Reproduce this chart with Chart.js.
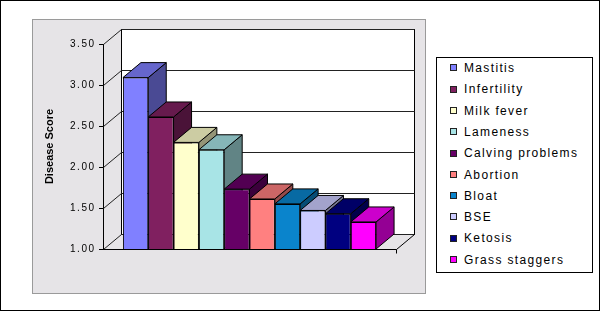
<!DOCTYPE html>
<html>
<head>
<meta charset="utf-8">
<script src="https://cdn.jsdelivr.net/npm/chart.js@4.4.1/dist/chart.umd.min.js"></script>
<style>
  body { margin: 0; background: #fff; }
  #wrap { position: relative; width: 600px; height: 311px; }
  #legend {
    position: absolute; left: 436px; top: 57px; width: 155px; height: 214px;
    border: 1px solid #000; background: #fff;
    font: 12px "Liberation Sans", Arial, sans-serif; letter-spacing: 1.35px; color: #000;
  }
  .item { position: absolute; left: 13px; height: 14px; line-height: 14px; white-space: nowrap; }
  .item i { display: inline-block; width: 5px; height: 5px; border: 1px solid #222; margin-right: 7px; vertical-align: middle; position: relative; top: -1px; }
</style>
</head>
<body>
<div id="wrap">
  <canvas id="canvas" width="600" height="311"></canvas>
  <div id="legend"></div>
</div>
<script>
const diseases = ["Mastitis", "Infertility", "Milk fever", "Lameness", "Calving problems",
  "Abortion", "Bloat", "BSE", "Ketosis", "Grass staggers"];
const scores = [3.09, 2.61, 2.30, 2.21, 1.73, 1.61, 1.55, 1.47, 1.43, 1.33];
const yTicks = [1.0, 1.5, 2.0, 2.5, 3.0, 3.5];
const colors = ["#8080FF", "#802060", "#FFFFCC", "#A8E4E6", "#660066",
  "#FF8080", "#0A84CC", "#CCCCFF", "#000080", "#FF00FF"];

// depth of the 3d box, in pixels
const DX = 18, DY = 15;

function shade(hex, f) {
  const n = parseInt(hex.slice(1), 16);
  const r = Math.round(((n >> 16) & 255) * f);
  const g = Math.round(((n >> 8) & 255) * f);
  const b = Math.round((n & 255) * f);
  return `rgb(${r},${g},${b})`;
}

function poly(ctx, pts, fill) {
  ctx.beginPath();
  ctx.moveTo(pts[0][0], pts[0][1]);
  for (let k = 1; k < pts.length; k++) ctx.lineTo(pts[k][0], pts[k][1]);
  ctx.closePath();
  if (fill) { ctx.fillStyle = fill; ctx.fill(); }
  ctx.stroke();
}

function line(ctx, x1, y1, x2, y2) {
  ctx.beginPath();
  ctx.moveTo(x1, y1);
  ctx.lineTo(x2, y2);
  ctx.stroke();
}

const box3d = {
  id: "box3d",
  beforeDraw(chart) {
    const ctx = chart.ctx;
    ctx.letterSpacing = "0px";
    ctx.save();
    ctx.fillStyle = "#fff";
    ctx.fillRect(0, 0, 600, 311);
    ctx.strokeStyle = "#000";
    ctx.lineWidth = 1;
    ctx.strokeRect(0.5, 0.5, 599, 310);
    ctx.fillStyle = "#e6e4e7";
    ctx.fillRect(32, 19, 394, 275);
    ctx.strokeStyle = "#9a9a9a";
    ctx.strokeRect(32.5, 19.5, 393, 274);
    ctx.restore();
  },
  beforeDatasetsDraw(chart) {
    const { ctx, chartArea: a } = chart;
    const y = chart.scales.y;
    const L = Math.round(a.left) + 0.5, R = Math.round(a.right) + 0.5;
    const T = Math.round(a.top) + 0.5, B = Math.round(a.bottom) + 0.5;
    ctx.save();
    ctx.lineWidth = 1;
    ctx.strokeStyle = "#000";

    // back wall
    ctx.fillStyle = "#fff";
    ctx.fillRect(L + DX, T - DY, R - L, B - T);
    ctx.strokeRect(L + DX, T - DY, R - L, B - T);

    // gridlines on the wall and the diagonals on the side wall
    ctx.strokeStyle = "#222";
    y.ticks.forEach(t => {
      const yy = Math.round(y.getPixelForValue(t.value)) + 0.5;
      line(ctx, L + DX, yy - DY, R + DX, yy - DY);
      line(ctx, L, yy, L + DX, yy - DY);
    });

    // floor
    ctx.strokeStyle = "#000";
    line(ctx, L, B, R, B);
    line(ctx, R, B, R + DX, B - DY);
    line(ctx, R, B, R, B + 4);

    // side and top faces of the bars, left to right
    chart.data.datasets.forEach((ds, i) => {
      const bar = chart.getDatasetMeta(i).data[0];
      const l = bar.x - bar.width / 2, r = bar.x + bar.width / 2;
      const t = bar.y, b = Math.min(bar.base, a.bottom);
      poly(ctx, [[r, t], [r + DX, t - DY], [r + DX, b - DY], [r, b]], shade(ds.backgroundColor, 0.58));
      poly(ctx, [[l, t], [l + DX, t - DY], [r + DX, t - DY], [r, t]], shade(ds.backgroundColor, 0.8));
    });
    ctx.restore();
  },
  afterDatasetsDraw(chart) {
    // tick labels are drawn after this (ticks.z = 1), spaced like the original
    chart.ctx.letterSpacing = "1.5px";
  },
  afterDraw(chart) {
    chart.ctx.letterSpacing = "0px";
  }
};

const ctx = document.getElementById("canvas").getContext("2d");

const chart = new Chart(ctx, {
  type: "bar",
  data: {
    labels: [""],
    datasets: diseases.map((name, i) => ({
      label: name,
      data: [scores[i]],
      backgroundColor: colors[i],
      borderColor: "#000",
      borderWidth: 1,
      categoryPercentage: 0.864,
      barPercentage: 1
    }))
  },
  options: {
    responsive: false,
    animation: false,
    events: [],
    layout: { padding: { left: 32, right: 204, top: 44, bottom: 62 } },
    plugins: { legend: { display: false }, tooltip: { enabled: false } },
    scales: {
      x: { display: false },
      y: {
        min: yTicks[0],
        max: yTicks[yTicks.length - 1],
        afterFit: s => { s.width = 71; },
        afterBuildTicks: s => { s.ticks = yTicks.map(v => ({ value: v })); },
        ticks: {
          z: 1,
          padding: 3.5,
          color: "#000",
          font: { family: "Liberation Sans", size: 10 },
          callback: v => Number(v).toFixed(2)
        },
        grid: { drawOnChartArea: false, drawTicks: true, tickLength: 4, color: "#000" },
        border: { display: true, color: "#000" },
        title: {
          display: true,
          text: "Disease Score",
          color: "#000",
          font: { family: "Liberation Sans", size: 11, weight: "bold" },
          padding: { top: 11, bottom: 0 }
        }
      }
    }
  },
  plugins: [box3d]
});

// legend, same order as the bars
const legend = document.getElementById("legend");
diseases.forEach((name, i) => {
  const item = document.createElement("div");
  item.className = "item";
  item.style.top = (3 + i * 21.3) + "px";
  item.innerHTML = `<i style="background:${colors[i]}"></i>${name}`;
  legend.appendChild(item);
});
</script>
</body>
</html>
